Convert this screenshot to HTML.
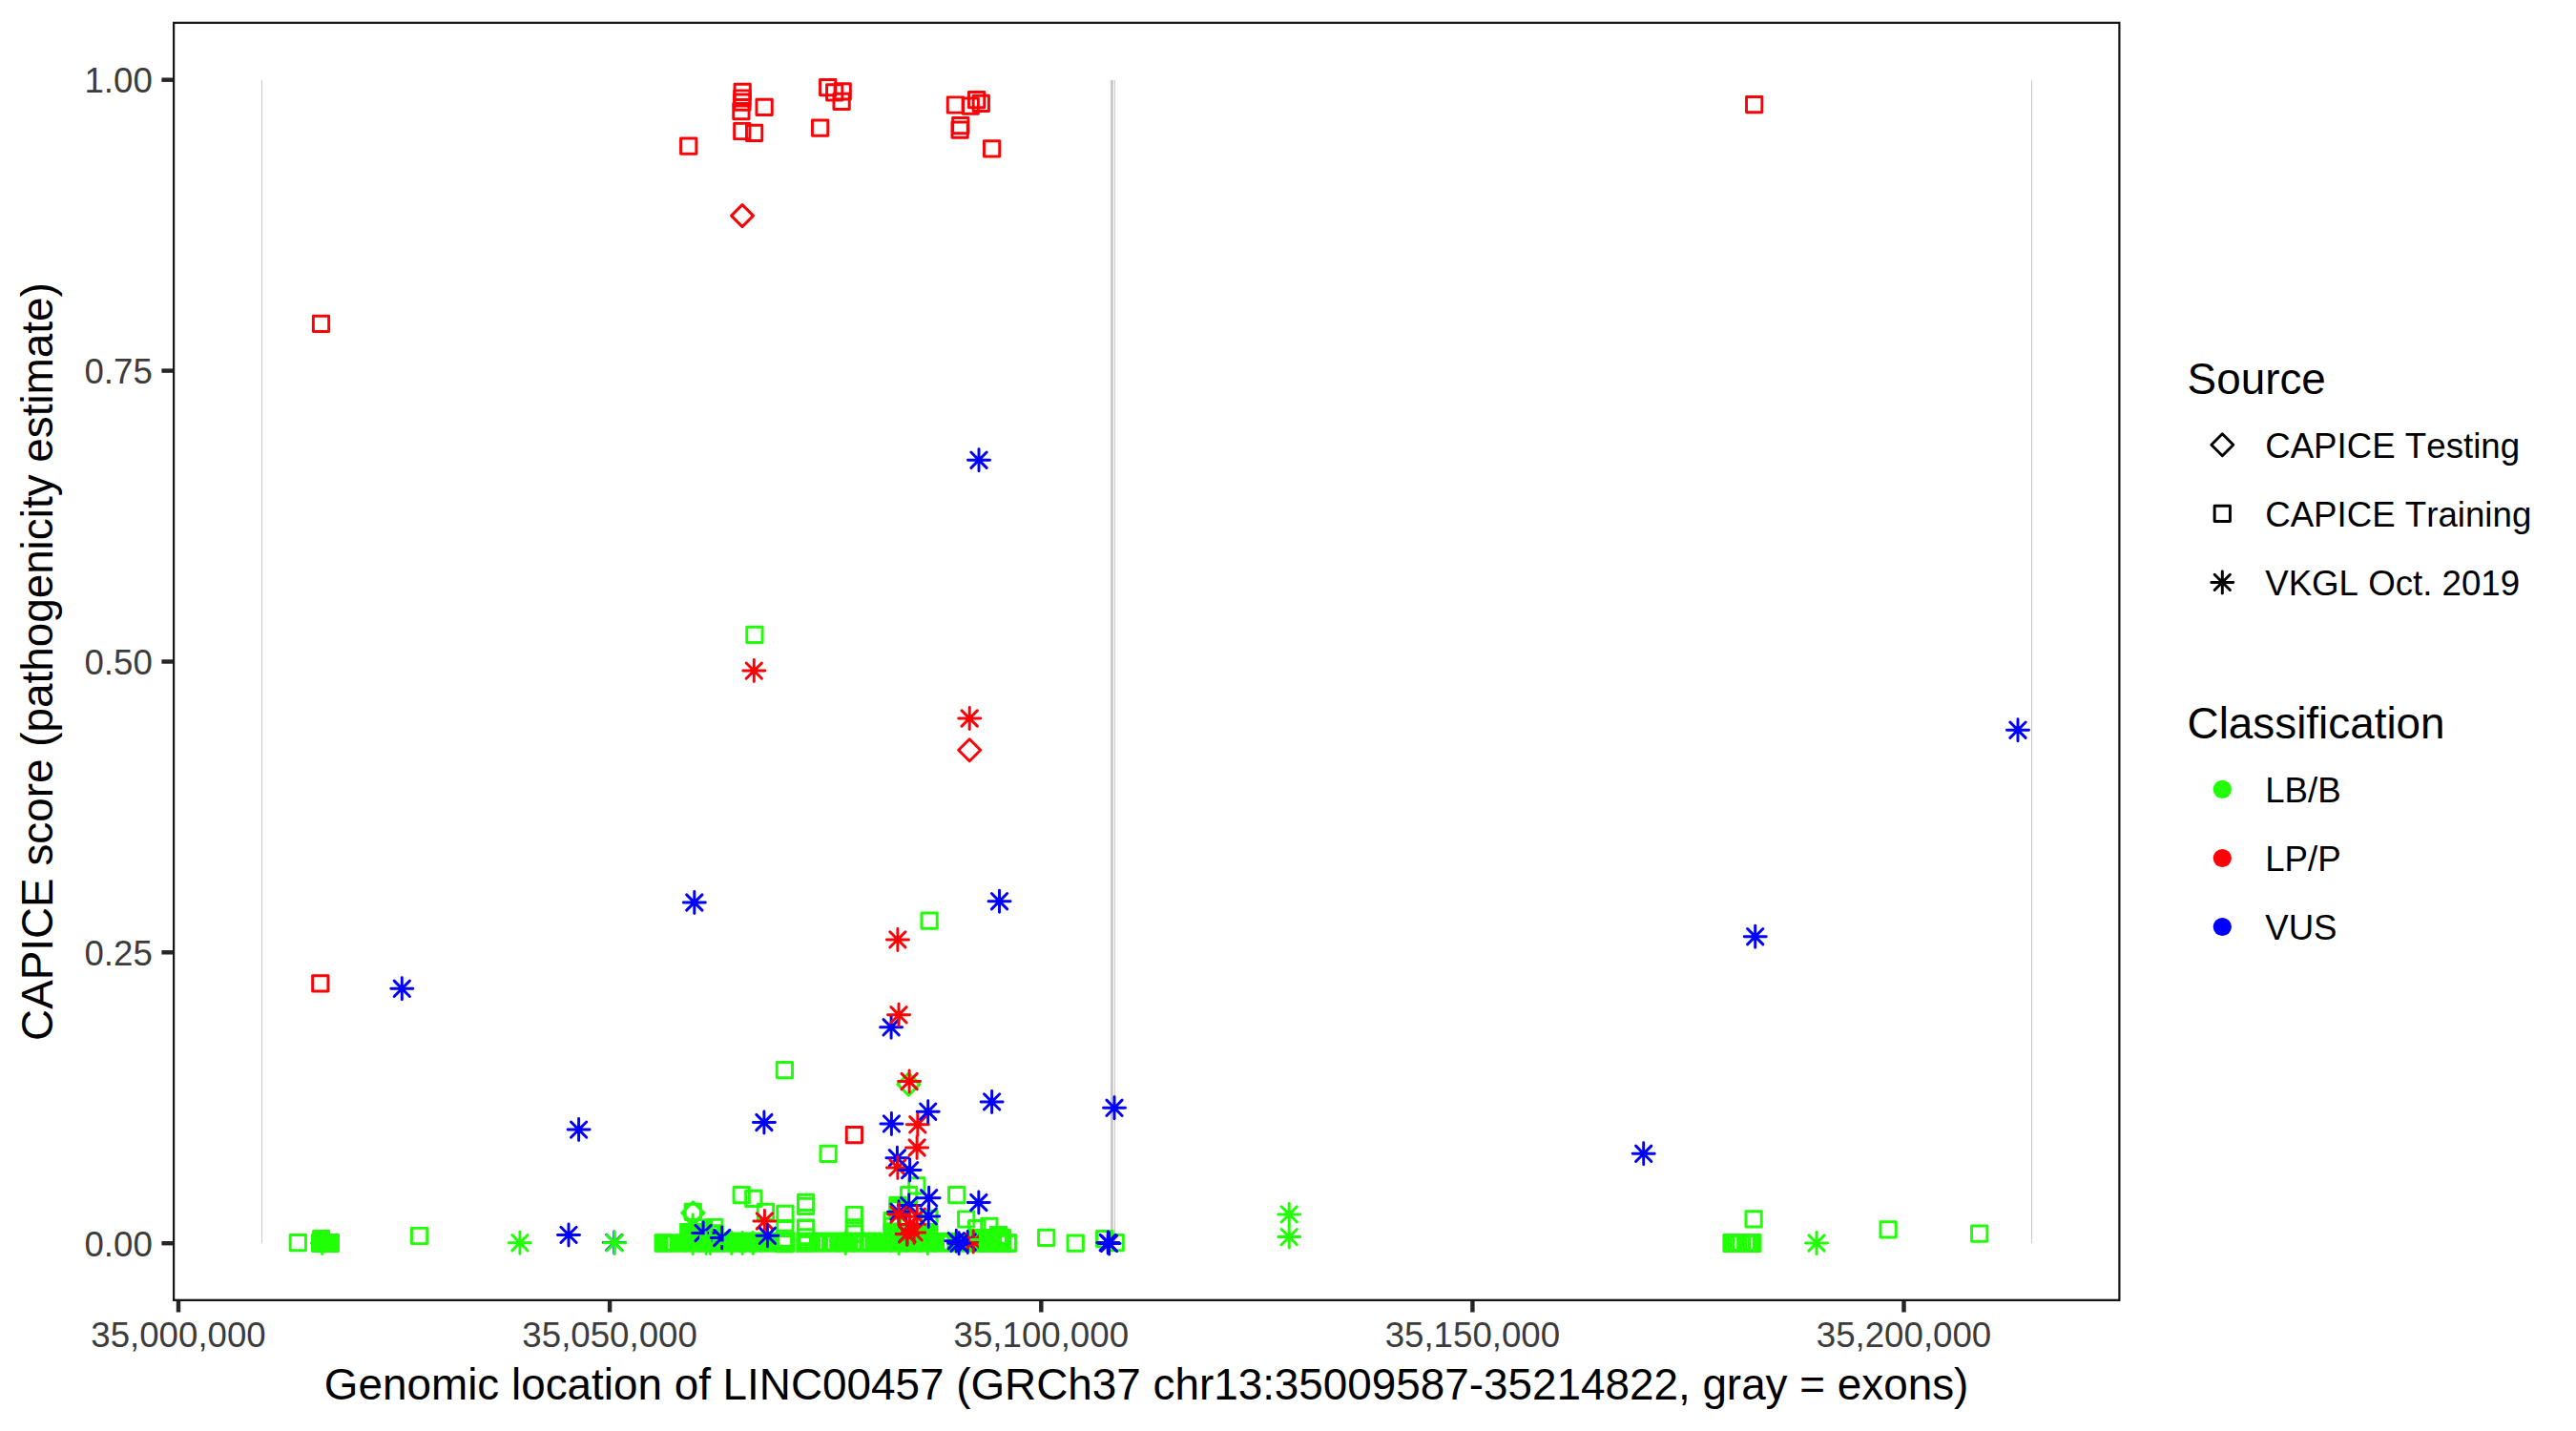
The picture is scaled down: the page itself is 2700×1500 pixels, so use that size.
<!DOCTYPE html>
<html lang="en"><head><meta charset="utf-8"><title>CAPICE score LINC00457</title>
<style>
html,body{margin:0;padding:0;background:#fff;overflow:hidden}
svg{display:block}
text{font-family:"Liberation Sans",Arial,Helvetica,sans-serif;font-kerning:none}
.t{font-size:36.67px;fill:#3C3C3C}
.l{font-size:36.67px;fill:#000}
.h{font-size:45.83px;fill:#000}
</style></head><body>
<svg width="2700" height="1500" viewBox="0 0 2700 1500">
<defs>
<rect id="q" x="-8.14" y="-8.14" width="16.28" height="16.28" fill="none" stroke-width="2.95" stroke-linejoin="round"/>
<path id="d" d="M-11.5,0L0,-11.5L11.5,0L0,11.5Z" fill="none" stroke-width="2.95" stroke-linejoin="round"/>
<path id="s" d="M-11.5,0H11.5M0,-11.5V11.5M-8.14,-8.14L8.14,8.14M-8.14,8.14L8.14,-8.14" fill="none" stroke-width="2.95" stroke-linecap="round"/>
<clipPath id="cp"><rect x="181" y="22.8" width="2041.5" height="1341.1"/></clipPath>
</defs>
<rect width="2700" height="1500" fill="#fff"/>
<g fill="#C9C9C9">
<rect x="274" y="84" width="1" height="1219"/>
<rect x="1164" y="84" width="2.9" height="1219"/>
<rect x="1168" y="84" width="1" height="1219"/>
<rect x="2129" y="84" width="1" height="1219"/>
</g>
<g clip-path="url(#cp)">
<rect x="685.9" y="1293.2" width="380.2" height="19.6" rx="1.4" fill="#21FF06"/>
<rect x="712.1" y="1282.1" width="23.9" height="13.9" rx="1.4" fill="#21FF06"/>
<rect x="736.0" y="1291.6" width="189.0" height="4.4" rx="1.4" fill="#21FF06"/>
<rect x="925.6" y="1282.0" width="57.4" height="14.0" rx="1.4" fill="#21FF06"/>
<rect x="983.0" y="1291.8" width="21.0" height="4.2" rx="1.4" fill="#21FF06"/>
<rect x="1014.3" y="1288.0" width="31.7" height="8.0" rx="1.4" fill="#21FF06"/>
<rect x="1037.0" y="1285.0" width="19.2" height="11.0" rx="1.4" fill="#21FF06"/>
<rect x="1046.0" y="1288.2" width="13.8" height="7.8" rx="1.4" fill="#21FF06"/>
<rect x="700.6" y="1297.1" width="1.4" height="11.9" fill="#fff"/>
<rect x="817.0" y="1297.1" width="11.1" height="7.7" fill="#fff"/>
<rect x="839.3" y="1297.8" width="8.6" height="4.4" fill="#fff"/>
<rect x="839.3" y="1304.6" width="8.6" height="1.8" fill="#fff"/>
<rect x="860.0" y="1297.2" width="0.8" height="11.6" fill="#fff"/>
<rect x="868.2" y="1297.2" width="1.0" height="11.6" fill="#fff"/>
<rect x="898.9" y="1297.2" width="1.5" height="11.6" fill="#fff"/>
<rect x="905.8" y="1297.2" width="0.7" height="11.6" fill="#fff"/>
<rect x="990.0" y="1297.2" width="2.5" height="11.7" fill="#fff"/>
<rect x="1050.1" y="1296.9" width="2.8" height="4.7" fill="#fff"/>
<rect x="1060.5" y="1296.9" width="2.5" height="12.6" fill="#fff"/>
<rect x="326.0" y="1293.1" width="30.0" height="19.9" rx="1.4" fill="#21FF06"/>
<rect x="327.0" y="1289.1" width="19.1" height="6.9" rx="1.4" fill="#21FF06"/>
<rect x="1805.4" y="1293.0" width="41.1" height="19.9" rx="1.4" fill="#21FF06"/>
<rect x="1818.5" y="1297.2" width="1.7" height="11.8" fill="#fff"/>
<rect x="1835.0" y="1297.2" width="1.7" height="11.8" fill="#fff"/>
<rect x="1815.2" y="1297.2" width="0.5" height="11.8" fill="#fff"/>
<rect x="1831.2" y="1297.2" width="0.5" height="11.8" fill="#fff"/>
<use href="#q" x="790.9" y="665.3" stroke="#21FF06"/>
<use href="#q" x="974.1" y="965.1" stroke="#21FF06"/>
<use href="#q" x="822.4" y="1121.6" stroke="#21FF06"/>
<use href="#q" x="868.1" y="1209.3" stroke="#21FF06"/>
<use href="#q" x="777.2" y="1252.6" stroke="#21FF06"/>
<use href="#q" x="789.8" y="1256.4" stroke="#21FF06"/>
<use href="#q" x="802.4" y="1270.4" stroke="#21FF06"/>
<use href="#q" x="822.9" y="1272.3" stroke="#21FF06"/>
<use href="#q" x="822.9" y="1287.5" stroke="#21FF06"/>
<use href="#q" x="844.6" y="1260.3" stroke="#21FF06"/>
<use href="#q" x="844.6" y="1264.3" stroke="#21FF06"/>
<use href="#q" x="844.6" y="1287.0" stroke="#21FF06"/>
<use href="#q" x="844.6" y="1287.6" stroke="#21FF06"/>
<use href="#q" x="844.6" y="1296.8" stroke="#21FF06"/>
<use href="#q" x="895.3" y="1273.5" stroke="#21FF06"/>
<use href="#q" x="895.3" y="1286.8" stroke="#21FF06"/>
<use href="#q" x="895.3" y="1293.1" stroke="#21FF06"/>
<use href="#q" x="960.8" y="1242.8" stroke="#21FF06"/>
<use href="#q" x="952.6" y="1252.6" stroke="#21FF06"/>
<use href="#q" x="941.1" y="1263.4" stroke="#21FF06"/>
<use href="#q" x="941.1" y="1265.8" stroke="#21FF06"/>
<use href="#q" x="941.1" y="1268.0" stroke="#21FF06"/>
<use href="#q" x="935.2" y="1279.6" stroke="#21FF06"/>
<use href="#q" x="935.3" y="1285.4" stroke="#21FF06"/>
<use href="#q" x="935.3" y="1291.1" stroke="#21FF06"/>
<use href="#q" x="973.8" y="1277.4" stroke="#21FF06"/>
<use href="#q" x="1002.7" y="1252.6" stroke="#21FF06"/>
<use href="#q" x="1012.7" y="1278.0" stroke="#21FF06"/>
<use href="#q" x="1023.7" y="1287.6" stroke="#21FF06"/>
<use href="#q" x="1036.8" y="1285.4" stroke="#21FF06"/>
<use href="#q" x="1046.6" y="1294.5" stroke="#21FF06"/>
<use href="#q" x="1050.3" y="1297.7" stroke="#21FF06"/>
<use href="#q" x="1056.7" y="1303.0" stroke="#21FF06"/>
<use href="#q" x="1096.7" y="1297.4" stroke="#21FF06"/>
<use href="#q" x="1127.2" y="1303.2" stroke="#21FF06"/>
<use href="#q" x="1157.7" y="1298.6" stroke="#21FF06"/>
<use href="#q" x="1169.2" y="1302.7" stroke="#21FF06"/>
<use href="#q" x="312.3" y="1302.7" stroke="#21FF06"/>
<use href="#q" x="439.6" y="1295.5" stroke="#21FF06"/>
<use href="#q" x="1838.1" y="1277.8" stroke="#21FF06"/>
<use href="#q" x="1979.1" y="1288.9" stroke="#21FF06"/>
<use href="#q" x="2074.7" y="1293.2" stroke="#21FF06"/>
<use href="#q" x="726.3" y="1270.4" stroke="#21FF06"/>
<use href="#q" x="695.2" y="1303.0" stroke="#21FF06"/>
<use href="#q" x="822.5" y="1303.7" stroke="#21FF06"/>
<use href="#q" x="822.5" y="1298.3" stroke="#21FF06"/>
<use href="#q" x="843.6" y="1303.0" stroke="#21FF06"/>
<use href="#d" x="726.3" y="1271.4" stroke="#21FF06"/>
<use href="#d" x="952.3" y="1136.6" stroke="#21FF06"/>
<rect x="833.4" y="1291.0" width="0.8" height="22.2" fill="#fff"/>
<use href="#s" x="337.7" y="1303.0" stroke="#21FF06"/>
<use href="#s" x="544.9" y="1302.7" stroke="#21FF06"/>
<use href="#s" x="1351.2" y="1272.9" stroke="#21FF06"/>
<use href="#s" x="1351.2" y="1296.6" stroke="#21FF06"/>
<use href="#s" x="1904.0" y="1303.0" stroke="#21FF06"/>
<use href="#s" x="726.1" y="1284.5" stroke="#21FF06"/>
<use href="#s" x="726.1" y="1303.0" stroke="#21FF06"/>
<use href="#s" x="740.1" y="1303.0" stroke="#21FF06"/>
<use href="#s" x="744.3" y="1303.0" stroke="#21FF06"/>
<use href="#s" x="766.8" y="1303.0" stroke="#21FF06"/>
<use href="#s" x="778.1" y="1303.0" stroke="#21FF06"/>
<use href="#s" x="789.2" y="1303.0" stroke="#21FF06"/>
<use href="#s" x="886.2" y="1303.0" stroke="#21FF06"/>
<use href="#s" x="942.1" y="1303.3" stroke="#21FF06"/>
<use href="#s" x="972.3" y="1303.3" stroke="#21FF06"/>
<use href="#q" x="748.8" y="1286.5" stroke="#21FF06"/>
<use href="#q" x="748.8" y="1292.8" stroke="#21FF06"/>
<rect x="739.4" y="1284.0" width="18.9" height="12.0" rx="0.5" fill="#21FF06"/>
<rect x="735.2" y="1277.4" width="11.8" height="18.6" rx="0.5" fill="#21FF06"/>
<rect x="747.1" y="1287.3" width="3.9" height="0.8" fill="#fff"/>
<use href="#s" x="737.1" y="1292.5" stroke="#0000FF"/>
<rect x="733.1" y="1294.2" width="12.7" height="12.2" rx="0.5" fill="#21FF06"/>
<rect x="738.6" y="1290.6" width="7.9" height="5.2" rx="0.5" fill="#21FF06"/>
<rect x="741.5" y="1291.2" width="1.5" height="2.6" rx="0" fill="#0000FF"/>
<use href="#s" x="756.7" y="1297.5" stroke="#0000FF"/>
<rect x="758.6" y="1295.6" width="12.1" height="15.4" rx="0.5" fill="#21FF06"/>
<rect x="755.0" y="1301.5" width="3.6" height="3.5" rx="0.5" fill="#21FF06"/>
<use href="#s" x="1014.2" y="1302.0" stroke="#0000FF"/>
<use href="#s" x="1020.2" y="1301.6" stroke="#FB0207"/>
<rect x="1025.9" y="1291.0" width="34.1" height="21.8" rx="0.5" fill="#21FF06"/>
<rect x="1050.1" y="1296.9" width="2.8" height="4.7" fill="#fff"/>
<rect x="1016.6" y="1298.0" width="10.4" height="2.9" rx="1.4" fill="#21FF06"/>
<use href="#q" x="721.7" y="153.2" stroke="#FB0207"/>
<use href="#q" x="778.2" y="96.4" stroke="#FB0207"/>
<use href="#q" x="777.9" y="103.0" stroke="#FB0207"/>
<use href="#q" x="777.9" y="107.1" stroke="#FB0207"/>
<use href="#q" x="776.9" y="116.6" stroke="#FB0207"/>
<use href="#q" x="801.1" y="112.4" stroke="#FB0207"/>
<use href="#q" x="777.8" y="137.5" stroke="#FB0207"/>
<use href="#q" x="790.6" y="139.4" stroke="#FB0207"/>
<use href="#q" x="867.7" y="91.7" stroke="#FB0207"/>
<use href="#q" x="874.7" y="96.8" stroke="#FB0207"/>
<use href="#q" x="883.2" y="95.9" stroke="#FB0207"/>
<use href="#q" x="882.1" y="106.4" stroke="#FB0207"/>
<use href="#q" x="859.6" y="134.2" stroke="#FB0207"/>
<use href="#q" x="1001.4" y="110.0" stroke="#FB0207"/>
<use href="#q" x="1017.2" y="111.1" stroke="#FB0207"/>
<use href="#q" x="1023.6" y="104.7" stroke="#FB0207"/>
<use href="#q" x="1028.3" y="108.4" stroke="#FB0207"/>
<use href="#q" x="1006.8" y="131.6" stroke="#FB0207"/>
<use href="#q" x="1006.1" y="136.2" stroke="#FB0207"/>
<use href="#q" x="1039.6" y="155.8" stroke="#FB0207"/>
<use href="#q" x="1838.7" y="109.7" stroke="#FB0207"/>
<use href="#q" x="336.5" y="339.4" stroke="#FB0207"/>
<use href="#q" x="335.8" y="1030.9" stroke="#FB0207"/>
<use href="#q" x="895.4" y="1189.7" stroke="#FB0207"/>
<use href="#d" x="778.0" y="226.1" stroke="#FB0207"/>
<use href="#d" x="1016.2" y="786.3" stroke="#FB0207"/>
<use href="#s" x="643.8" y="1302.4" stroke="#0000FF"/>
<use href="#s" x="644.2" y="1302.8" stroke="#21FF06"/>
<use href="#s" x="934.1" y="1076.8" stroke="#0000FF"/>
<use href="#s" x="940.4" y="1213.8" stroke="#0000FF"/>
<use href="#s" x="942.0" y="1270.2" stroke="#0000FF"/>
<use href="#s" x="950.8" y="1293.5" stroke="#0000FF"/>
<use href="#s" x="952.7" y="1263.6" stroke="#0000FF"/>
<use href="#s" x="790.3" y="703.1" stroke="#FB0207"/>
<use href="#s" x="1016.2" y="753.0" stroke="#FB0207"/>
<use href="#s" x="940.9" y="984.9" stroke="#FB0207"/>
<use href="#s" x="942.0" y="1063.8" stroke="#FB0207"/>
<use href="#s" x="953.1" y="1133.5" stroke="#FB0207"/>
<use href="#s" x="961.8" y="1178.8" stroke="#FB0207"/>
<use href="#s" x="961.1" y="1203.0" stroke="#FB0207"/>
<use href="#s" x="940.9" y="1223.9" stroke="#FB0207"/>
<use href="#s" x="801.4" y="1280.0" stroke="#FB0207"/>
<use href="#s" x="942.0" y="1273.1" stroke="#FB0207"/>
<use href="#s" x="961.2" y="1275.3" stroke="#FB0207"/>
<use href="#s" x="950.8" y="1293.8" stroke="#FB0207"/>
<use href="#s" x="958.1" y="1291.9" stroke="#FB0207"/>
<use href="#s" x="953.5" y="1283.5" stroke="#FB0207"/>
<use href="#s" x="1026.0" y="482.2" stroke="#0000FF"/>
<use href="#s" x="2115.0" y="765.2" stroke="#0000FF"/>
<use href="#s" x="727.8" y="946.0" stroke="#0000FF"/>
<use href="#s" x="1047.5" y="944.7" stroke="#0000FF"/>
<use href="#s" x="1839.7" y="981.7" stroke="#0000FF"/>
<use href="#s" x="421.3" y="1036.3" stroke="#0000FF"/>
<use href="#s" x="1039.6" y="1154.9" stroke="#0000FF"/>
<use href="#s" x="1168.0" y="1161.3" stroke="#0000FF"/>
<use href="#s" x="972.7" y="1165.2" stroke="#0000FF"/>
<use href="#s" x="800.9" y="1176.5" stroke="#0000FF"/>
<use href="#s" x="934.4" y="1177.9" stroke="#0000FF"/>
<use href="#s" x="606.6" y="1184.1" stroke="#0000FF"/>
<use href="#s" x="1722.7" y="1209.3" stroke="#0000FF"/>
<use href="#s" x="953.6" y="1226.6" stroke="#0000FF"/>
<use href="#s" x="973.6" y="1255.8" stroke="#0000FF"/>
<use href="#s" x="1025.8" y="1260.5" stroke="#0000FF"/>
<use href="#s" x="973.2" y="1274.9" stroke="#0000FF"/>
<use href="#s" x="596.0" y="1294.4" stroke="#0000FF"/>
<use href="#s" x="804.4" y="1295.3" stroke="#0000FF"/>
<use href="#s" x="1002.3" y="1300.7" stroke="#0000FF"/>
<use href="#s" x="1005.1" y="1303.2" stroke="#0000FF"/>
<use href="#s" x="1161.2" y="1302.5" stroke="#0000FF"/>
<use href="#s" x="1162.6" y="1303.4" stroke="#0000FF"/>
</g>
<g clip-path="url(#cp)"><rect x="181" y="22.8" width="2041.5" height="1341.1" fill="none" stroke="#161616" stroke-width="4.45"/></g>
<g stroke="#262626" stroke-width="4.45">
<line x1="187.0" y1="1363.9" x2="187.0" y2="1375.5"/>
<line x1="639.1" y1="1363.9" x2="639.1" y2="1375.5"/>
<line x1="1091.3" y1="1363.9" x2="1091.3" y2="1375.5"/>
<line x1="1543.4" y1="1363.9" x2="1543.4" y2="1375.5"/>
<line x1="1995.5" y1="1363.9" x2="1995.5" y2="1375.5"/>
<line x1="169.4" y1="1303.2" x2="181.0" y2="1303.2"/>
<line x1="169.4" y1="998.3" x2="181.0" y2="998.3"/>
<line x1="169.4" y1="693.5" x2="181.0" y2="693.5"/>
<line x1="169.4" y1="388.6" x2="181.0" y2="388.6"/>
<line x1="169.4" y1="83.7" x2="181.0" y2="83.7"/>
</g>
<text class="t" x="187.0" y="1412.2" text-anchor="middle">35,000,000</text>
<text class="t" x="639.1" y="1412.2" text-anchor="middle">35,050,000</text>
<text class="t" x="1091.3" y="1412.2" text-anchor="middle">35,100,000</text>
<text class="t" x="1543.4" y="1412.2" text-anchor="middle">35,150,000</text>
<text class="t" x="1995.5" y="1412.2" text-anchor="middle">35,200,000</text>
<text class="t" x="159.8" y="1316.5" text-anchor="end">0.00</text>
<text class="t" x="159.8" y="1011.6" text-anchor="end">0.25</text>
<text class="t" x="159.8" y="706.8" text-anchor="end">0.50</text>
<text class="t" x="159.8" y="401.9" text-anchor="end">0.75</text>
<text class="t" x="159.8" y="97.0" text-anchor="end">1.00</text>
<text class="h" x="1201.6" y="1466.8" text-anchor="middle">Genomic location of LINC00457 (GRCh37 chr13:35009587-35214822, gray = exons)</text>
<text class="h" transform="translate(54.9,693.6) rotate(-90)" text-anchor="middle">CAPICE score (pathogenicity estimate)</text>
<text class="h" x="2292.6" y="412.8">Source</text>
<use href="#d" x="2329.3" y="466.3" stroke="#000"/>
<use href="#q" x="2329.3" y="538.4" stroke="#000"/>
<use href="#s" x="2329.3" y="610.4" stroke="#000"/>
<text class="l" x="2374.2" y="479.6">CAPICE Testing</text>
<text class="l" x="2374.2" y="551.7">CAPICE Training</text>
<text class="l" x="2374.2" y="623.7">VKGL Oct. 2019</text>
<text class="h" x="2292.6" y="773.9">Classification</text>
<circle cx="2329.3" cy="827.4" r="9.6" fill="#21FF06"/>
<text class="l" x="2374.2" y="840.7">LB/B</text>
<circle cx="2329.3" cy="899.5" r="9.6" fill="#FB0207"/>
<text class="l" x="2374.2" y="912.8">LP/P</text>
<circle cx="2329.3" cy="971.5" r="9.6" fill="#0000FF"/>
<text class="l" x="2374.2" y="984.8">VUS</text>
</svg></body></html>
